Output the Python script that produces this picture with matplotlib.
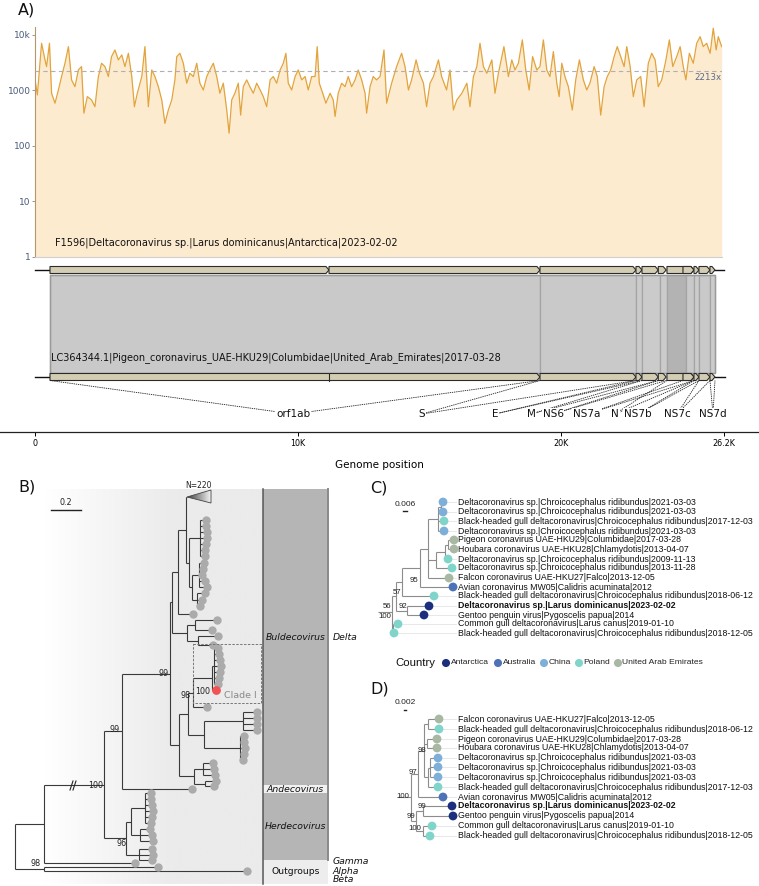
import numpy as np
import matplotlib
matplotlib.use('Agg')
import matplotlib.pyplot as plt
from matplotlib.patches import Polygon, Rectangle
from matplotlib.colors import LinearSegmentedColormap

W, H = 759, 886
fig = plt.figure(figsize=(W / 100, H / 100), dpi=100)
fig.patch.set_facecolor('white')

def rect(x0, y0, x1, y1):
    return [x0 / W, 1 - y1 / H, (x1 - x0) / W, (y1 - y0) / H]

SANS = 'DejaVu Sans'
ARIAL = 'Liberation Sans'

# ---------------- DATA ----------------
# Panel A: read depth along genome (kb, depth)
cov_pos_kb = [0.00, 0.09, 0.25, 0.38, 0.44, 0.55, 0.63, 0.76, 0.89, 1.01, 1.14, 1.27, 1.39, 1.52, 1.65, 1.77,
              1.86, 1.99, 2.15, 2.28, 2.41, 2.53, 2.66, 2.79, 2.91, 3.04, 3.17, 3.30, 3.42, 3.55, 3.68, 3.78,
              3.89, 4.06, 4.18, 4.31, 4.44, 4.56, 4.69, 4.82, 4.94, 5.07, 5.20, 5.32, 5.39, 5.51, 5.64, 5.77,
              5.89, 6.02, 6.15, 6.27, 6.40, 6.53, 6.65, 6.78, 6.91, 7.03, 7.16, 7.29, 7.38, 7.48, 7.60, 7.73,
              7.82, 7.92, 8.05, 8.17, 8.30, 8.43, 8.56, 8.68, 8.81, 8.94, 9.06, 9.19, 9.32, 9.44, 9.54, 9.63,
              9.76, 9.89, 10.01, 10.14, 10.27, 10.39, 10.52, 10.65, 10.73, 10.81, 10.94, 11.06, 11.22, 11.34,
              11.41, 11.53, 11.66, 11.79, 11.91, 12.04, 12.17, 12.29, 12.42, 12.55, 12.61, 12.74, 12.86, 12.99,
              13.12, 13.27, 13.37, 13.56, 13.75, 13.94, 14.07, 14.20, 14.32, 14.49, 14.62, 14.77, 14.89, 15.02,
              15.15, 15.34, 15.46, 15.65, 15.78, 15.91, 16.04, 16.23, 16.42, 16.54, 16.67, 16.80, 16.92, 17.05,
              17.18, 17.37, 17.49, 17.62, 17.83, 18.00, 18.13, 18.25, 18.38, 18.53, 18.66, 18.79, 18.92, 19.08,
              19.20, 19.33, 19.46, 19.58, 19.71, 19.84, 19.93, 20.03, 20.15, 20.28, 20.43, 20.56, 20.70, 20.85,
              20.98, 21.10, 21.26, 21.38, 21.51, 21.64, 21.76, 21.89, 22.02, 22.14, 22.27, 22.40, 22.50, 22.63,
              22.75, 22.88, 23.03, 23.16, 23.32, 23.45, 23.58, 23.70, 23.83, 23.99, 24.12, 24.25, 24.40, 24.53,
              24.65, 24.75, 24.88, 25.03, 25.16, 25.29, 25.41, 25.54, 25.67, 25.79, 25.90, 25.98, 26.11]
cov_depth = [1550, 830, 7080, 3550, 2690, 7080, 890, 590, 1020, 1780, 3090, 6160, 1550, 1170, 2340, 2690,
             390, 775, 675, 510, 1780, 3090, 2690, 1780, 4070, 5370, 3550, 4360, 2690, 4670, 1780, 510,
             890, 1780, 6160, 510, 2340, 1780, 1170, 675, 255, 445, 675, 1550, 4070, 4670, 3090, 1350,
             2040, 1780, 3090, 1350, 1020, 1780, 2340, 3090, 1780, 890, 1350, 445, 170, 675, 890, 1350,
             360, 1170, 1550, 1170, 890, 1350, 1020, 775, 510, 1550, 1780, 1350, 2340, 3090, 4670, 1350,
             1020, 1780, 2340, 1550, 1780, 1020, 1780, 1780, 6160, 1350, 890, 590, 890, 675,
             340, 890, 1350, 1170, 1780, 1170, 1550, 2340, 1550, 890, 390, 1170, 1780, 1550,
             1780, 5370, 590, 1350, 2690, 4670, 2690, 1020, 1550, 3550, 2040, 1350, 510, 1350,
             1780, 3550, 1780, 1020, 2340, 445, 675, 890, 1350, 510, 1780, 2690, 7080, 2690,
             2040, 3550, 890, 2040, 6160, 1780, 3550, 2340, 3090, 8130, 2340, 1020, 4070, 2340,
             2690, 8130, 2340, 1780, 5010, 1350, 775, 3090, 1780, 1170, 445, 1550, 3550, 1550,
             1020, 1350, 2690, 1780, 360, 1170, 1780, 2340, 4070, 6160, 4070, 2690, 6160, 2690,
             775, 1550, 1780, 510, 3090, 4670, 3550, 1170, 1550, 3550, 8130, 2690, 4070, 6160,
             2690, 1550, 4670, 3090, 7080, 9300, 6160, 7080, 4670, 13200, 5370, 9300, 6160]
mean_depth = 2213
sample_name = 'F1596|Deltacoronavirus sp.|Larus dominicanus|Antarctica|2023-02-02'
ref_name = 'LC364344.1|Pigeon_coronavirus_UAE-HKU29|Columbidae|United_Arab_Emirates|2017-03-28'

gene_names = ['orf1ab', 'S', 'E', 'M', 'NS6', 'NS7a', 'N', 'NS7b', 'NS7c', 'NS7d']
gene_start = [570, 19202, 22852, 23080, 23700, 24639, 24030, 25057, 25247, 25665]
gene_end = [19202, 22852, 23080, 23700, 24000, 25057, 25057, 25247, 25665, 25856]
gene_label_pos = [9810, 14710, 17490, 18860, 19700, 20990, 22050, 22930, 24410, 25780]
orf1a_end = 11179
genome_ticks = [0, 10000, 20000, 26200]
genome_tick_labels = ['0', '10K', '20K', '26.2K']
band_bounds = [570, 19202, 22852, 23080, 23764, 24030, 24753, 25057, 25247, 25665, 25856]
band_shade = ['#c9c9c9', '#c9c9c9', '#cbcbcb', '#cbcbcb', '#cbcbcb', '#b3b3b3', '#c9c9c9', '#cbcbcb',
              '#c9c9c9', '#cbcbcb']

# Panel B: tree layout (tips are (x, y); internal nodes are [x, children...])
tree_B = [15,
          [44,
           [104,
            [122,
             [170,
              [172,
               [178,
                [186,
                 (187, 497),
                 [189,
                  [200, (206, 520), (206, 526), (207, 532), (207, 538), (206, 544), (205, 550), (205, 556)],
                  [192,
                   [199, (204, 563), (203, 569), (202, 575), (205, 581), (207, 587)],
                   [197, (205, 593), (202, 600), (200, 606)]]]],
                (193, 614)],
               [187,
                [195, (217, 620), (212, 630)],
                [198, (218, 636), (213, 645)]]],
              [179,
               [188,
                [193,
                 [212,
                  [214, (218, 648), (219, 654), (220, 660), (221, 666), (220, 672), (219, 678), (218, 684)],
                  (216, 690)],
                 (207, 707)],
                [204,
                 [243, (257, 712), (257, 718), (257, 724), (257, 730)],
                 [240, (244, 736), (244, 742), (245, 748), (244, 754), (243, 760)]]],
               [194,
                [203, (213, 763), (214, 769), (215, 775)],
                [205, (216, 781), (214, 786)]]]],
             (192, 789)],
            [126,
             [131,
              [145, (151, 793), (151, 799), (152, 805), (153, 811), (152, 817), (151, 823)],
              [140, (150, 829), (152, 835), (153, 841)]],
             [139, (152, 849), (153, 855), (152, 860)]]],
           (135, 863)],
          [44, (158, 867), (247, 871)]]
collapsed_tip = (187, 497)
highlight_tip = (216, 690)
b_support = ['99', '99', '98', '100', '100', '96', '98']
b_support_x = [115, 164, 186, 203, 96, 122, 36]
b_support_y = [729, 674, 696, 692, 785, 843, 864]
b_groups = ['Buldecovirus', 'Andecovirus', 'Herdecovirus', 'Outgroups']
b_group_top = [489, 785, 793, 860]
b_group_bot = [785, 793, 860, 884]
b_group_fc = ['#b5b5b5', '#f1f1f1', '#b5b5b5', '#ededed']
b_group_italic = [True, True, True, False]
b_genera = ['Delta', 'Gamma', 'Alpha', 'Beta']
b_genera_y = [637, 862, 871, 880]

# Panels C and D
countries = ['Antarctica', 'Australia', 'China', 'Poland', 'United Arab Emirates']
country_colors = ['#1c2f7e', '#4e72b8', '#7eafd8', '#80d5cb', '#a8b8a3']

c_labels = ['Deltacoronavirus sp.|Chroicocephalus ridibundus|2021-03-03',
            'Deltacoronavirus sp.|Chroicocephalus ridibundus|2021-03-03',
            'Black-headed gull deltacoronavirus|Chroicocephalus ridibundus|2017-12-03',
            'Deltacoronavirus sp.|Chroicocephalus ridibundus|2021-03-03',
            'Pigeon coronavirus UAE-HKU29|Columbidae|2017-03-28',
            'Houbara coronavirus UAE-HKU28|Chlamydotis|2013-04-07',
            'Deltacoronavirus sp.|Chroicocephalus ridibundus|2009-11-13',
            'Deltacoronavirus sp.|Chroicocephalus ridibundus|2013-11-28',
            'Falcon coronavirus UAE-HKU27|Falco|2013-12-05',
            'Avian coronavirus MW05|Calidris acuminata|2012',
            'Black-headed gull deltacoronavirus|Chroicocephalus ridibundus|2018-06-12',
            'Deltacoronavirus sp.|Larus dominicanus|2023-02-02',
            'Gentoo penguin virus|Pygoscelis papua|2014',
            'Common gull deltacoronavirus|Larus canus|2019-01-10',
            'Black-headed gull deltacoronavirus|Chroicocephalus ridibundus|2018-12-05']
c_country = [2, 2, 3, 2, 4, 4, 3, 3, 4, 1, 3, 0, 0, 3, 3]
c_tip_x = [443, 443, 444, 444, 454, 454, 448, 452, 449, 453, 434, 429, 424, 398, 394]
c_tip_y = [502, 512, 521, 531, 540, 549, 559, 568, 578, 587, 596, 606, 615, 624, 633]
tree_C = [378,
          [392,
           [396,
            [402,
             [420,
              [428,
               [438, [441, (443, 502), (443, 512)], (444, 521), (444, 531)],
               [436, [445, [448, (454, 540), (454, 549)], (448, 559)], (452, 568)],
               (449, 578)],
              (453, 587)],
             (434, 596)],
            [407, (429, 606), (424, 615)]],
           [393, (398, 624), (394, 633)]]]
c_support = ['95', '57', '56', '92', '100']
c_support_x = [414, 397, 387, 403, 385]
c_support_y = [580, 593, 606, 606, 617]

d_labels = ['Falcon coronavirus UAE-HKU27|Falco|2013-12-05',
            'Black-headed gull deltacoronavirus|Chroicocephalus ridibundus|2018-06-12',
            'Pigeon coronavirus UAE-HKU29|Columbidae|2017-03-28',
            'Houbara coronavirus UAE-HKU28|Chlamydotis|2013-04-07',
            'Deltacoronavirus sp.|Chroicocephalus ridibundus|2021-03-03',
            'Deltacoronavirus sp.|Chroicocephalus ridibundus|2021-03-03',
            'Deltacoronavirus sp.|Chroicocephalus ridibundus|2021-03-03',
            'Black-headed gull deltacoronavirus|Chroicocephalus ridibundus|2017-12-03',
            'Avian coronavirus MW05|Calidris acuminata|2012',
            'Deltacoronavirus sp.|Larus dominicanus|2023-02-02',
            'Gentoo penguin virus|Pygoscelis papua|2014',
            'Common gull deltacoronavirus|Larus canus|2019-01-10',
            'Black-headed gull deltacoronavirus|Chroicocephalus ridibundus|2018-12-05']
d_country = [4, 3, 4, 4, 2, 2, 2, 3, 1, 0, 0, 3, 3]
d_tip_x = [439, 439, 437, 437, 438, 438, 438, 438, 443, 452, 453, 432, 430]
d_tip_y = [719, 729, 739, 748, 758, 767, 777, 787, 797, 806, 816, 826, 836]
tree_D = [397,
          [411,
           [418,
            [424,
             [428, (439, 719), (439, 729)],
             [427, (437, 739), (437, 748)],
             [428, [430, (438, 758), (438, 767), (438, 777)], (438, 787)]],
            (443, 797)],
           [416,
            [423, (452, 806), (453, 816)],
            [423, (432, 826), (430, 836)]]]]
d_support = ['98', '97', '100', '99', '99', '100']
d_support_x = [422, 413, 403, 422, 411, 415]
d_support_y = [751, 772, 796, 807, 817, 828]
bold_label = 'Deltacoronavirus sp.|Larus dominicanus|2023-02-02'

# ---------------- overlay (pixel coordinates) ----------------
ov = fig.add_axes([0, 0, 1, 1])
ov.set_xlim(0, W)
ov.set_ylim(H, 0)
ov.axis('off')

for lab, (px, py) in zip(['A)', 'B)', 'C)', 'D)'], [(18, 10), (18, 487), (370, 488), (370, 689)]):
    ov.text(px, py, lab, fontsize=11.5, family=SANS, ha='left', va='center', color='#111')

# ---------------- Panel A: coverage ----------------
axc = fig.add_axes(rect(35, 27, 722, 257))
axc.set_yscale('log')
axc.set_xlim(0, 26122)
axc.set_ylim(1, 13900)
cx = np.array(cov_pos_kb) * 1000
axc.fill_between(cx, 1, cov_depth, color='#fdebd0', lw=0, zorder=1)
axc.plot(cx, cov_depth, color='#e2a43c', lw=0.9, zorder=2)
axc.axhline(mean_depth, color='#b0b0b0', ls=(0, (4, 3)), lw=0.8, zorder=3)
axc.text(26100, mean_depth * 0.93, f'{mean_depth}x', ha='right', va='top', fontsize=6.2,
         color='#5a6a88', family=SANS, zorder=4)
axc.text(760, 1.8, sample_name, ha='left', va='center', fontsize=7, family=SANS, color='#111')
axc.set_yticks([1, 10, 100, 1000, 10000])
axc.set_yticklabels(['1', '10', '100', '1000', '10k'])
axc.yaxis.set_minor_locator(matplotlib.ticker.NullLocator())
axc.tick_params(axis='y', labelsize=6.5, labelcolor='#4a5b7c', length=2, width=0.6, color='#888', pad=1)
axc.set_xticks([])
for s in ['top', 'right']:
    axc.spines[s].set_visible(False)
axc.spines['left'].set_color('#b8956a')
axc.spines['bottom'].set_color('#cfcfcf')
axc.patch.set_alpha(0)

# ---------------- Panel A: gene tracks ----------------
axg = fig.add_axes(rect(0, 258, 759, 432))
axg.set_xlim(-1331, 27530)
axg.set_ylim(432, 258)
for s in ['top', 'right', 'left']:
    axg.spines[s].set_visible(False)
axg.spines['bottom'].set_color('#222')
axg.spines['bottom'].set_linewidth(0.9)
axg.set_yticks([])
axg.set_xticks(genome_ticks)
axg.set_xticklabels(genome_tick_labels, fontsize=5.8, family=SANS)
axg.tick_params(axis='x', length=3, width=0.7, pad=2)
axg.set_xlabel('Genome position', fontsize=7.5, family=SANS, labelpad=9)
axg.patch.set_alpha(0)

TOP, BOT, GH = 270, 377, 7
HEAD = 115

def gene_arrow(ax, s, e, yc, z=3):
    pts = [(s, yc - GH / 2), (e - HEAD, yc - GH / 2), (e, yc), (e - HEAD, yc + GH / 2), (s, yc + GH / 2)]
    ax.add_patch(Polygon(pts, closed=True, fc='#d3cdb4', ec='#2b2b2b', lw=0.8, zorder=z))

# synteny band
for i in range(len(band_shade)):
    x0, x1 = band_bounds[i], band_bounds[i + 1]
    axg.add_patch(Rectangle((x0, TOP + 4.5), x1 - x0, BOT - TOP - 9, fc=band_shade[i], ec='#a4a4a4',
                            lw=0.9, zorder=1))
axg.add_patch(Rectangle((band_bounds[0], TOP + 4.5), band_bounds[-1] - band_bounds[0], BOT - TOP - 9,
                        fc='none', ec='#9a9a9a', lw=1.0, zorder=2))
axg.text(608, 358, ref_name, ha='left', va='center', fontsize=7, family=SANS, color='#111', zorder=5)

for yc, tail in [(TOP, 26200), (BOT, 26240)]:
    axg.plot([0, gene_start[0]], [yc, yc], color='#111', lw=1.0, zorder=2)
    axg.plot([band_bounds[-1], tail], [yc, yc], color='#111', lw=1.0, zorder=2)
# top track: orf1a and orf1b separately
gene_arrow(axg, gene_start[0], orf1a_end, TOP)
gene_arrow(axg, orf1a_end, gene_end[0], TOP)
gene_arrow(axg, gene_start[0], gene_end[0], BOT)
axg.plot([orf1a_end, orf1a_end], [BOT - GH / 2, BOT + GH / 2], color='#2b2b2b', lw=0.8, zorder=4)
for s, e in zip(gene_start[1:], gene_end[1:]):
    for yc in (TOP, BOT):
        gene_arrow(axg, s, e, yc, z=3 if (e - s) > 800 else 4)

# labels and dotted connectors
for name, s, e, lx in zip(gene_names, gene_start, gene_end, gene_label_pos):
    axg.plot([s, lx], [BOT + GH / 2, 414], ls=(0, (1.6, 1.0)), color='#222', lw=0.6, zorder=2)
    axg.plot([lx, e], [414, BOT + GH / 2], ls=(0, (1.6, 1.0)), color='#222', lw=0.6, zorder=2)
    axg.text(lx, 414, name, ha='center', va='center', fontsize=7.5, family=SANS, color='#111', zorder=6,
             bbox=dict(fc='white', ec='none', pad=0.6))

# ---------------- Panel B ----------------
cmap_bg = LinearSegmentedColormap.from_list('bg', ['#ffffff', '#ebebeb'])
ramp = np.clip(np.linspace(0, 1.7, 300), 0, 1)
ov.imshow(np.tile(ramp, (2, 1)), cmap=cmap_bg, vmin=0, vmax=1, extent=(45, 262, 884, 489),
          aspect='auto', zorder=0, interpolation='bilinear')
ov.set_xlim(0, W)
ov.set_ylim(H, 0)

for name, t, b, fc, it in zip(b_groups, b_group_top, b_group_bot, b_group_fc, b_group_italic):
    ov.add_patch(Rectangle((263, t), 65, b - t, fc=fc, ec='none', zorder=1))
    ov.text(295.5, (t + b) / 2, name, ha='center', va='center', fontsize=6.7, family=SANS,
            style='italic' if it else 'normal', color='#111', zorder=3)
ov.plot([263, 263], [489, 884], color='#555', lw=1.1, zorder=2)
ov.plot([328, 328], [489, 860], color='#8a8a8a', lw=1.4, zorder=2)
ov.text(333, b_genera_y[0], b_genera[0], ha='left', va='center', fontsize=6.7, style='italic',
        family=SANS, color='#111')
for g, y in zip(b_genera[1:], b_genera_y[1:]):
    ov.text(333, y, g, ha='left', va='center', fontsize=6.7, style='italic', family=SANS, color='#111')


def draw_tree(ax, node, color, lw, z=2):
    if isinstance(node, tuple):
        return node[1]
    x = node[0]
    ys = [draw_tree(ax, c, color, lw, z) for c in node[1:]]
    for c, y in zip(node[1:], ys):
        ax.plot([x, c[0]], [y, y], color=color, lw=lw, zorder=z, solid_capstyle='butt')
    ax.plot([x, x], [min(ys), max(ys)], color=color, lw=lw, zorder=z, solid_capstyle='butt')
    return (min(ys) + max(ys)) / 2


def tips(node, out):
    if isinstance(node, tuple):
        out.append(node)
    else:
        for c in node[1:]:
            tips(c, out)
    return out


draw_tree(ov, tree_B, '#3a3a3a', 0.8)
b_tips = [t for t in tips(tree_B, []) if t != collapsed_tip and t != highlight_tip]
ov.scatter([t[0] for t in b_tips], [t[1] for t in b_tips], s=36, c='#ababab', lw=0, zorder=4)
ov.scatter([highlight_tip[0]], [highlight_tip[1]], s=40, c='#f25252', lw=0, zorder=5)

# collapsed clade triangle
tri = Polygon([(collapsed_tip[0], collapsed_tip[1]), (211, 490), (211, 503)], closed=True,
              fc='none', ec='#444', lw=0.6, zorder=4)
ov.add_patch(tri)
cmap_tri = LinearSegmentedColormap.from_list('tri', ['#3c3c3c', '#f2f2f2'])
im = ov.imshow(np.tile(np.linspace(0, 1, 50), (2, 1)), cmap=cmap_tri, extent=(187, 211, 503, 490),
               aspect='auto', zorder=3)
im.set_clip_path(tri)
ov.set_xlim(0, W)
ov.set_ylim(H, 0)
ov.text(198, 485, 'N=220', ha='center', va='center', fontsize=5.5, family=SANS, color='#222')

for t, x, y in zip(b_support, b_support_x, b_support_y):
    ov.text(x, y, t, ha='center', va='center', fontsize=5.8, family=SANS, color='#222', zorder=6)
# break mark
ov.plot([70, 73], [790, 781], color='#222', lw=0.8, zorder=6)
ov.plot([73, 76], [790, 781], color='#222', lw=0.8, zorder=6)
# scale bar
ov.plot([51, 81], [510, 510], color='#222', lw=1.0)
ov.text(66, 502, '0.2', ha='center', va='center', fontsize=5.8, family=SANS, color='#222')
# clade box
ov.add_patch(Rectangle((193, 644), 68, 59, fc='none', ec='#777', lw=0.7, ls=(0, (2.5, 1.5)), zorder=6))
ov.text(224, 695, 'Clade I', ha='left', va='center', fontsize=6.8, family=SANS, color='#8a8a8a', zorder=6)

# ---------------- Panels C and D ----------------
def draw_small_tree(tree, labels, country, tx, ty, support, sx, sy, scale_txt, scale_y, bar_w):
    draw_tree(ov, tree, '#8c8c8c', 0.8)
    for lab, ci, x, y in zip(labels, country, tx, ty):
        ov.plot([x + 4, 456], [y, y], color='#e4e4e4', lw=0.6, zorder=1)
        ov.text(458, y, lab, ha='left', va='center', fontsize=6.3, family=ARIAL, color='#111',
                fontweight='bold' if lab == bold_label else 'normal')
    ov.scatter(tx, ty, s=40, c=[country_colors[i] for i in country], lw=0, zorder=5)
    for t, x, y in zip(support, sx, sy):
        ov.text(x, y, t, ha='center', va='center', fontsize=5.6, family=ARIAL, color='#222', zorder=6)
    ov.text(405, scale_y, scale_txt, ha='center', va='center', fontsize=6, family=ARIAL, color='#222')
    ov.plot([405 - bar_w / 2, 405 + bar_w / 2], [scale_y + 7, scale_y + 7], color='#222', lw=1.0)


draw_small_tree(tree_C, c_labels, c_country, c_tip_x, c_tip_y, c_support, c_support_x, c_support_y,
                '0.006', 504, 4)
draw_small_tree(tree_D, d_labels, d_country, d_tip_x, d_tip_y, d_support, d_support_x, d_support_y,
                '0.002', 703, 1.5)

# legend
legend_x = [446, 498, 544, 579, 618]
ov.text(395, 663, 'Country', ha='left', va='center', fontsize=8.2, family=ARIAL, color='#111')
ov.scatter(legend_x, [663] * len(legend_x), s=34, c=country_colors, lw=0, zorder=5)
for name, x in zip(countries, legend_x):
    ov.text(x + 4.5, 663, name, ha='left', va='center', fontsize=6.1, family=ARIAL, color='#222')

fig.savefig('out.png', dpi=100)
